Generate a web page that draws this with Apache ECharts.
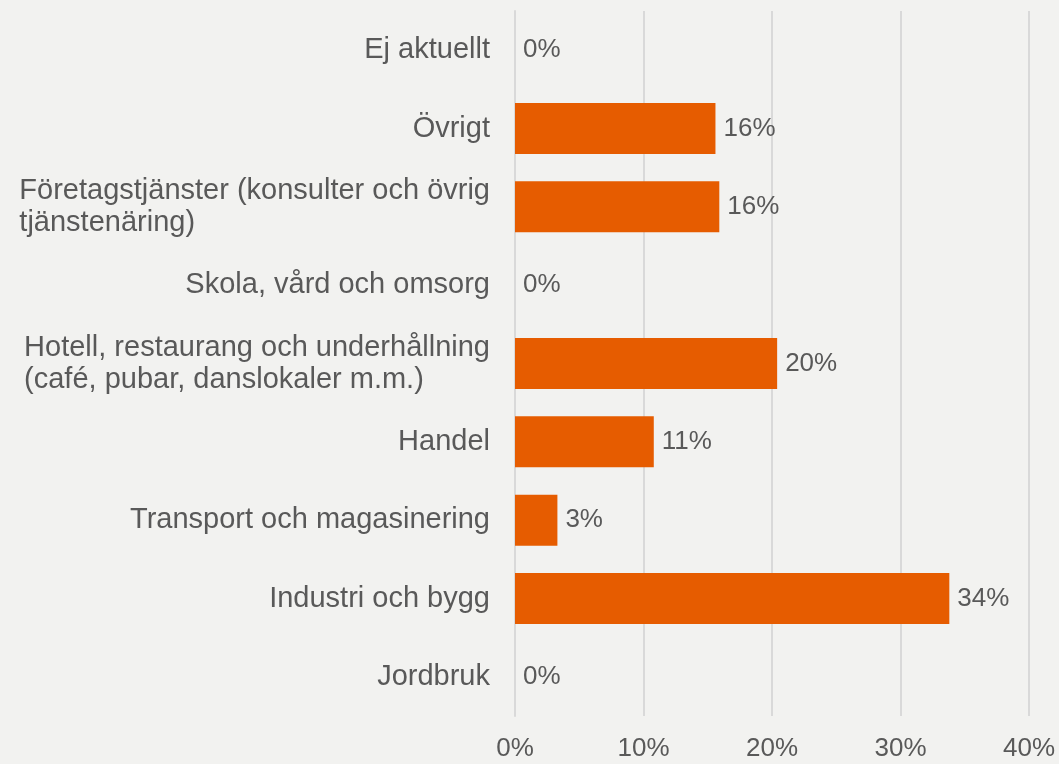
<!DOCTYPE html>
<html><head><meta charset="utf-8">
<style>html,body{margin:0;padding:0;background:#f2f2f0;}#c{width:1059px;height:764px;}</style>
<script src="https://cdn.jsdelivr.net/npm/echarts@6/dist/echarts.min.js"></script>
</head><body><div id="c"></div>
<script>
var categories = [
  "Ej aktuellt",
  "Övrigt",
  "Företagstjänster (konsulter och övrig\ntjänstenäring)",
  "Skola, vård och omsorg",
  "Hotell, restaurang och underhållning\n(café, pubar, danslokaler m.m.)",
  "Handel",
  "Transport och magasinering",
  "Industri och bygg",
  "Jordbruk"
];
var values = [0, 15.6, 15.9, 0, 20.4, 10.8, 3.3, 33.8, 0];
var xTicks = [0, 10, 20, 30, 40];

var chart = echarts.init(document.getElementById('c'), null, {renderer: 'canvas'});
var font = 'Liberation Sans, Arial, sans-serif';
chart.setOption({
  backgroundColor: '#f2f2f0',
  animation: false,
  grid: {left: 515, right: 30, top: 11, bottom: 48},
  xAxis: {
    type: 'value', min: xTicks[0], max: xTicks[xTicks.length - 1], interval: 10,
    axisLine: {show: false}, axisTick: {show: false},
    splitLine: {show: true, lineStyle: {color: '#d9d9d9', width: 2}},
    axisLabel: {color: '#595959', fontSize: 26, fontFamily: font, margin: 20,
      formatter: function (v) { return v + '%'; }}
  },
  yAxis: {
    type: 'category', data: categories.slice().reverse(),
    axisLine: {show: true, lineStyle: {color: '#d9d9d9', width: 2}},
    axisTick: {show: false},
    axisLabel: {color: '#595959', fontSize: 29, fontFamily: font, margin: 25,
      lineHeight: 32, align: 'right',
      formatter: function (v) {
        if (v.indexOf('\n') < 0) return v;
        return v.split('\n').map(function (s) { return '{l|' + s + '}'; }).join('\n');
      },
      rich: {l: {align: 'left', color: '#595959', fontSize: 29, fontFamily: font, lineHeight: 32}}
    }
  },
  series: [{
    type: 'bar', data: values.slice().reverse(), barWidth: 51,
    itemStyle: {color: '#e65c00'},
    label: {show: true, position: 'right', distance: 8, color: '#595959', fontSize: 26, fontFamily: font,
      formatter: function (p) { return Math.round(p.value) + '%'; }}
  }]
});
</script></body></html>
